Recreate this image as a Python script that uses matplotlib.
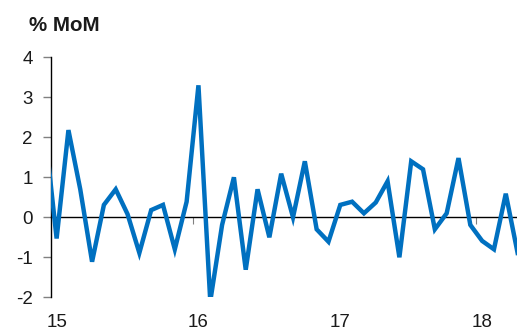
import matplotlib
matplotlib.use("Agg")
import matplotlib.pyplot as plt
import numpy as np

plt.rcParams['font.family'] = ['Liberation Sans', 'DejaVu Sans']

# Monthly % change, Dec 2014 through Apr 2018
values = [
    2.2,                                                            # Dec 2014
    -0.53, 2.18, 0.70, -1.11, 0.31, 0.70, 0.08, -0.89, 0.18, 0.31, -0.80, 0.39,   # 2015
    3.30, -2.10, -0.19, 1.00, -1.31, 0.70, -0.50, 1.09, 0.00, 1.40, -0.30, -0.61,  # 2016
    0.31, 0.39, 0.10, 0.37, 0.90, -1.00, 1.40, 1.20, -0.30, 0.10, 1.48, -0.19,     # 2017
    -0.59, -0.80, 0.59, -0.89,                                       # 2018
]
year_labels = ["15", "16", "17", "18"]
y_ticks = [-2, -1, 0, 1, 2, 3, 4]

# Month index: 0 = Jan 2015 (category centres)
x = np.arange(len(values)) - 1
jan_pos = [12 * i for i in range(len(year_labels))]
year_bounds = [12 * i - 0.5 for i in range(1, len(year_labels))]

fig = plt.figure(figsize=(5.17, 3.31), dpi=100)
ax = fig.add_axes([50.7 / 517, 33.7 / 331, (517 - 50.7) / 517, 240 / 331])

ax.plot(x, values, color="#0070C0", lw=3.2, solid_joinstyle="miter", zorder=3)

ax.set_xlim(-0.5, 38.95)
ax.set_ylim(-2, 4)

for side in ("top", "right"):
    ax.spines[side].set_visible(False)
ax.spines["left"].set_color("black")
ax.spines["left"].set_linewidth(1.0)
ax.spines["bottom"].set_position(("data", 0))
ax.spines["bottom"].set_color("black")
ax.spines["bottom"].set_linewidth(1.0)

ax.set_yticks(y_ticks)
ax.set_yticklabels([str(v) for v in y_ticks])
ax.tick_params(axis="y", direction="out", length=5.5, width=1.0, color="#808080",
               pad=7.5, labelsize=13.5, labelcolor="#1a1a1a")

# Year boundary ticks on the zero line
ax.set_xticks(year_bounds)
ax.set_xticklabels([])
ax.tick_params(axis="x", direction="out", length=5, width=0.8, color="#808080")

# Year labels along the bottom edge
sec = ax.secondary_xaxis(0.0)
sec.set_xticks(jan_pos)
sec.set_xticklabels(year_labels)
sec.spines["bottom"].set_visible(False)
sec.tick_params(axis="x", length=0, pad=12, labelsize=13.5, labelcolor="#1a1a1a")

fig.text(29 / 517, 1 - 30.7 / 331, "% MoM", fontsize=14.8, fontweight="bold",
         ha="left", va="baseline", color="#1a1a1a")

fig.savefig("out.png", dpi=100)
